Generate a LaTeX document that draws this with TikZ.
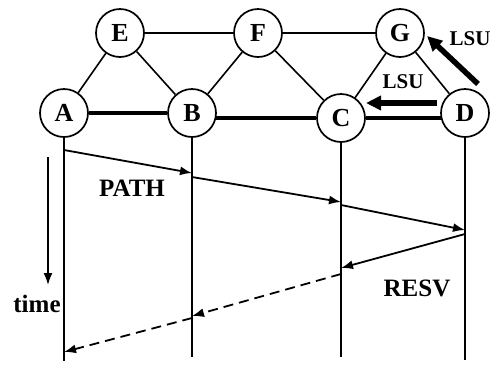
\documentclass[tikz,border=0pt]{standalone}
\usepackage{fontspec}
\setmainfont{Liberation Serif}
\usetikzlibrary{arrows.meta}
\begin{document}
\begin{tikzpicture}[x=1pt,y=-1pt,
  nd/.style={circle,draw,line width=1.7pt,minimum size=48pt,inner sep=0pt,fill=white,
    font=\fontsize{26}{26}\selectfont\bfseries},
  lbl/.style={inner sep=0pt,font=\fontsize{25}{25}\selectfont\bfseries},
  lsulbl/.style={inner sep=0pt,font=\fontsize{21}{21}\selectfont\bfseries},
  link/.style={line width=1.6pt},
  heavy/.style={line width=4pt},
  life/.style={line width=1.8pt},
  msg/.style={line width=1.8pt,-{Latex[length=12pt,width=9pt]}},
  msgd/.style={msg,dash pattern=on 10pt off 6pt},
  lsu/.style={line width=5.5pt,-{Triangle[length=15pt,width=14pt]}}
]
\useasboundingbox (0,0) rectangle (497,365);
\node[nd] (A) at (64,113) {A};
\node[nd] (B) at (192,113) {B};
\node[nd] (C) at (341,118) {C};
\node[nd] (D) at (465,113) {D};
\node[nd] (E) at (120,33) {E};
\node[nd] (F) at (258,33) {F};
\node[nd] (G) at (400,33) {G};
% lifelines
\coordinate (Ae) at (64,361);
\coordinate (Be) at (192,357);
\coordinate (Ce) at (341,357);
\coordinate (De) at (465,360);
\draw[life] (A) -- (Ae);
\draw[life] (B) -- (Be);
\draw[life] (C) -- (Ce);
\draw[life] (D) -- (De);
% heavy path
\draw[heavy] (A) -- (B);
\draw[heavy] ([xshift=-0.5pt]B.east |- C.west) -- (C);
\draw[heavy] (C) -- ([xshift=0.5pt]D.west |- C.east);
% links
\draw[link] (E) -- (A);
\draw[link] (E) -- (B);
\draw[link] (E) -- (F);
\draw[link] (F) -- (B);
\draw[link] (F) -- (C);
\draw[link] (F) -- (G);
\draw[link] (G) -- (C);
\draw[link] (G) -- (D);
% LSU arrows
\coordinate (l1s) at (437,103);
\coordinate (l1e) at (366,103);
\coordinate (l2s) at (478,84);
\coordinate (l2e) at (427,36);
\draw[lsu] (l1s) -- (l1e);
\draw[lsu] (l2s) -- (l2e);
\node[lsulbl] (lsu1) at (403,82) {LSU};
\node[lsulbl] (lsu2) at (470,39) {LSU};
% messages
\coordinate (m1) at (64,150);
\coordinate (m2) at (192,173);
\coordinate (m3) at (192,177);
\coordinate (m4) at (341,202);
\coordinate (m5) at (341,205);
\coordinate (m6) at (465,230);
\coordinate (m7) at (465,234);
\coordinate (m8) at (341,268);
\coordinate (m9) at (341,274);
\coordinate (m10) at (192,316);
\coordinate (m11) at (192,318);
\coordinate (m12) at (64,352);
\draw[msg] (m1) -- (m2);
\draw[msg] (m3) -- (m4);
\draw[msg] (m5) -- (m6);
\draw[msg] (m7) -- (m8);
\draw[msgd] (m9) -- (m10);
\draw[msgd] (m11) -- (m12);
\node[lbl] (path) at (132,188) {PATH};
\node[lbl] (resv) at (417,288) {RESV};
% time
\coordinate (t0) at (48,157);
\coordinate (t1) at (48,285);
\draw[msg] (t0) -- (t1);
\node[lbl] (time) at (37,304) {time};
\end{tikzpicture}
\end{document}
